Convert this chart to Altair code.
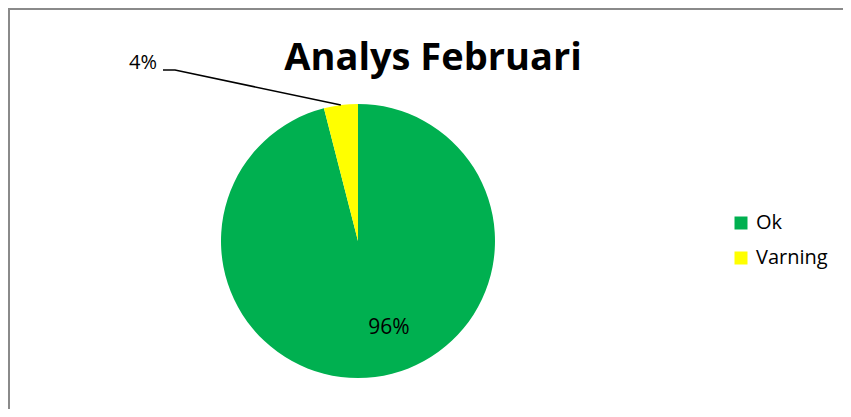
import math
import altair as alt
import pandas as pd

# ---- data ----
categories = ["Ok", "Varning"]
values = [96, 4]
colors = ["#00B050", "#FFFF00"]
title_text = "Analys Februari"

W, H = 835, 401
CX, CY, R = 350, 233, 137
FONT = "Open Sans"

total = sum(values)
df = pd.DataFrame({
    "cat": categories,
    "val": values,
    "idx": list(range(len(categories))),
    "pct": [f"{round(v / total * 100)}%" for v in values],
})

base = alt.Chart(df)

pie = base.mark_arc(outerRadius=R, stroke=None).encode(
    theta=alt.Theta("val:Q", stack=True),
    color=alt.Color(
        "cat:N",
        scale=alt.Scale(domain=categories, range=colors),
        legend=alt.Legend(
            title=None, orient="none", legendX=723, legendY=205,
            symbolType="square", symbolSize=169, symbolStrokeWidth=0,
            labelFont=FONT, labelFontSize=20, labelColor="#000000",
            labelOffset=5, rowPadding=15, padding=0,
        ),
    ),
    order=alt.Order("idx:Q"),
    x=alt.value(CX), y=alt.value(CY),
)

# leader line for the small slice: from label to mid-angle of the slice on the rim
cum_before = sum(values[:1])
mid = (cum_before + values[1] / 2) / total * 2 * math.pi
ex = CX + R * math.sin(mid)
ey = CY - R * math.cos(mid)
leader_df = pd.DataFrame({"px": [155, 167, ex], "py": [62, 62, ey], "o": [0, 1, 2]})
leader = alt.Chart(leader_df).mark_line(color="#000000", strokeWidth=1.5).encode(
    x=alt.X("px:Q", scale=alt.Scale(domain=[0, W], range=[0, W]), axis=None),
    y=alt.Y("py:Q", scale=alt.Scale(domain=[0, H], range=[0, H]), axis=None),
    order="o:Q",
)

lab_small = alt.Chart(df[df["cat"] == "Varning"]).mark_text(
    font=FONT, fontSize=20, align="right", baseline="middle", color="#000000"
).encode(text="pct:N", x=alt.value(149), y=alt.value(55))

lab_big = alt.Chart(df[df["cat"] == "Ok"]).mark_text(
    font=FONT, fontSize=21, align="center", baseline="middle", color="#000000"
).encode(text="pct:N", x=alt.value(381), y=alt.value(320))

title = alt.Chart(pd.DataFrame({"t": [title_text]})).mark_text(
    font=FONT, fontSize=38, fontWeight="bold", align="center", baseline="middle", color="#000000"
).encode(text="t:N", x=alt.value(425), y=alt.value(51))

border_top = alt.Chart(pd.DataFrame({"a": [0]})).mark_rule(color="#8a8a8a", strokeWidth=2).encode(
    x=alt.value(0), x2=alt.value(W), y=alt.value(1)
)
border_left = alt.Chart(pd.DataFrame({"a": [0]})).mark_rule(color="#8a8a8a", strokeWidth=2).encode(
    x=alt.value(1), y=alt.value(0), y2=alt.value(H)
)

chart = alt.layer(pie, leader, lab_small, lab_big, title, border_top, border_left).properties(
    width=W, height=H, padding=0, autosize=alt.AutoSizeParams(type="none"),
    background="#ffffff",
).configure_view(stroke=None)

chart.save("out.html", embed_options={"renderer": "svg", "actions": False})
